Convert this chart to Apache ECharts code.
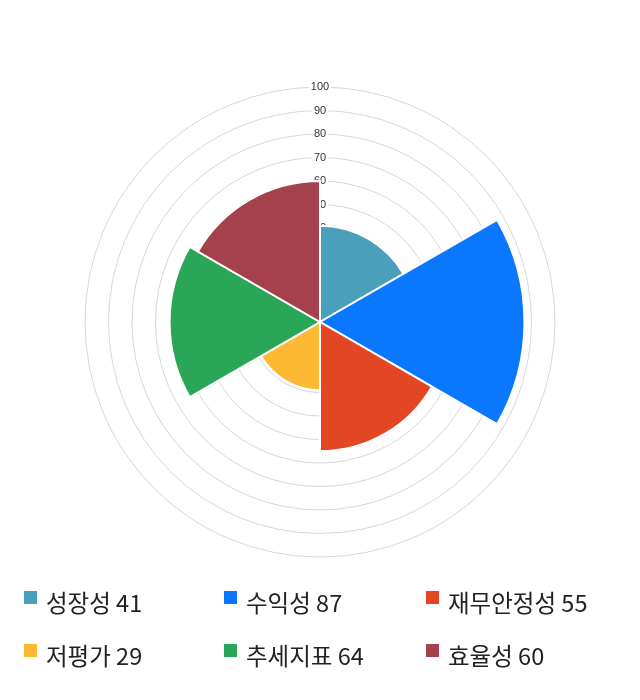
<!DOCTYPE html>
<html>
<head>
<meta charset="utf-8">
<script src="https://cdn.jsdelivr.net/npm/echarts@6/dist/echarts.min.js"></script>
<style>
  html, body { margin: 0; padding: 0; background: #fff; }
  #main { width: 640px; height: 700px; }
</style>
</head>
<body>
<div id="main"></div>
<script>
// 지표 이름 / 점수 / 색
var categories = ['성장성', '수익성', '재무안정성', '저평가', '추세지표', '효율성'];
var scores = [41, 87, 55, 29, 64, 60];
var colors = ['#4aa0ba', '#0a77ff', '#e24623', '#fdb933', '#29a657', '#a5404d'];
var radiusTicks = [0, 10, 20, 30, 40, 50, 60, 70, 80, 90, 100];

var font = '"Noto Sans CJK KR", "Noto Sans", sans-serif';

// 각 지표를 하나의 시리즈로 (범례용), 같은 stack 으로 칸 전체 폭 사용
var series = categories.map(function (name, i) {
  var data = categories.map(function (_, j) { return j === i ? scores[i] : '-'; });
  return {
    type: 'bar',
    name: name,
    coordinateSystem: 'polar',
    stack: 'all',
    data: data,
    barCategoryGap: 0,
    z: 5,
    itemStyle: { color: colors[i], borderColor: '#fff', borderWidth: 2 }
  };
});

// 범례 위치 (3열 2행)
var legendCols = [22, 222, 424];
var legendRows = [589, 642];
var legends = categories.map(function (name, i) {
  return {
    left: legendCols[i % 3],
    top: legendRows[Math.floor(i / 3)],
    padding: 0,
    data: [name],
    icon: 'rect',
    itemWidth: 15,
    itemHeight: 15,
    itemGap: 0,
    selectedMode: false,
    // 글자를 아이콘보다 조금 아래로 내림
    formatter: function (n) { return '{s| }{t|' + n + ' ' + scores[categories.indexOf(n)] + '}'; },
    textStyle: {
      fontFamily: font,
      fontSize: 23.5,
      color: '#222',
      rich: {
        s: { width: 3, lineHeight: 34, fontSize: 10 },
        t: { fontFamily: font, fontSize: 23.5, lineHeight: 22, color: '#222', verticalAlign: 'bottom' }
      }
    }
  };
});

var myChart = echarts.init(document.getElementById('main'));
myChart.setOption({
  animation: false,
  color: colors,
  legend: legends,
  polar: { center: [320, 322], radius: 235 },
  angleAxis: {
    type: 'category',
    data: categories,
    startAngle: 90,
    clockwise: true,
    axisLine: { show: false },
    axisTick: { show: false },
    axisLabel: { show: false },
    splitLine: { show: false }
  },
  radiusAxis: {
    type: 'value',
    min: 0,
    max: 100,
    interval: 10,
    z: 1,
    axisLine: { show: false },
    axisTick: { show: false },
    splitLine: { show: true, lineStyle: { color: '#d6d6d6', width: 1 } },
    axisLabel: {
      show: true,
      margin: 0,
      align: 'center',
      verticalAlign: 'middle',
      fontSize: 11,
      color: '#333',
      fontFamily: 'Arial, "Liberation Sans", sans-serif',
      backgroundColor: '#fff',
      padding: [0, 2],
      formatter: function (v) { return radiusTicks.indexOf(v) > 0 ? String(v) : ''; }
    }
  },
  series: series
});
</script>
</body>
</html>
